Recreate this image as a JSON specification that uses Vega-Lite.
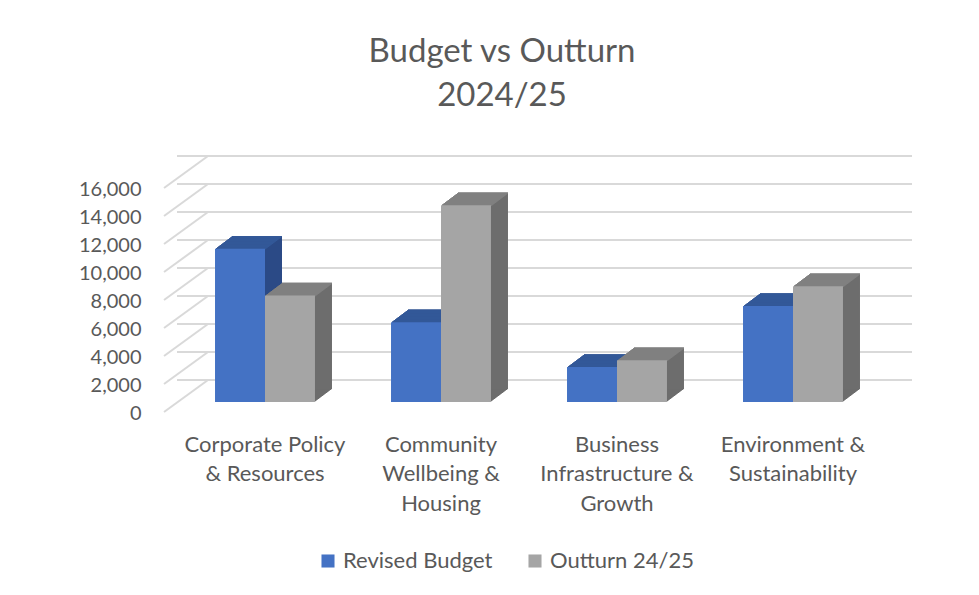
{
  "$schema": "https://vega.github.io/schema/vega-lite/v6.json",
  "width": 704,
  "height": 224,
  "autosize": {"type": "none"},
  "padding": {"left": 177, "top": 178, "right": 98, "bottom": 193},
  "background": "white",
  "title": {
    "text": ["Budget vs Outturn", "2024/25"],
    "fontSize": 33,
    "font": "Lato",
    "fontWeight": "normal",
    "color": "#595959",
    "lineHeight": 44,
    "anchor": "middle",
    "frame": "group",
    "dx": -27,
    "offset": 42
  },
  "data": {
    "values": [
      {"cat": "Corporate Policy & Resources", "series": "Revised Budget", "value": 10950},
      {"cat": "Corporate Policy & Resources", "series": "Outturn 24/25", "value": 7600},
      {"cat": "Community Wellbeing & Housing", "series": "Revised Budget", "value": 5700},
      {"cat": "Community Wellbeing & Housing", "series": "Outturn 24/25", "value": 14050},
      {"cat": "Business Infrastructure & Growth", "series": "Revised Budget", "value": 2500},
      {"cat": "Business Infrastructure & Growth", "series": "Outturn 24/25", "value": 2980},
      {"cat": "Environment & Sustainability", "series": "Revised Budget", "value": 6860},
      {"cat": "Environment & Sustainability", "series": "Outturn 24/25", "value": 8260}
    ]
  },
  "layer": [
    {
      "data": {"values": [{"v": 0}, {"v": 2000}, {"v": 4000}, {"v": 6000}, {"v": 8000}, {"v": 10000}, {"v": 12000}, {"v": 14000}, {"v": 16000}]},
      "mark": {"type": "rule", "color": "#D9D9D9", "strokeWidth": 2, "xOffset": 31, "x2Offset": 31, "yOffset": -22},
      "encoding": {"y": {"field": "v", "type": "quantitative", "title": null,
        "axis": {"format": ",d", "values": [0, 2000, 4000, 6000, 8000, 10000, 12000, 14000, 16000], "labelOffset": 11, "labelPadding": 36, "labelOverlap": false, "labelFontSize": 20}}}
    },
    {
      "data": {"values": [{"v": 0}, {"v": 2000}, {"v": 4000}, {"v": 6000}, {"v": 8000}, {"v": 10000}, {"v": 12000}, {"v": 14000}, {"v": 16000}]},
      "mark": {"type": "rule", "color": "#D9D9D9", "strokeWidth": 2, "xOffset": -51, "x2Offset": -7, "yOffset": 10, "y2Offset": -22},
      "encoding": {
        "x": {"datum": "Corporate Policy & Resources", "type": "nominal", "bandPosition": 0, "title": null},
        "x2": {"datum": "Corporate Policy & Resources", "bandPosition": 0},
        "y": {"field": "v", "type": "quantitative", "title": null,
          "axis": {"format": ",d", "values": [0, 2000, 4000, 6000, 8000, 10000, 12000, 14000, 16000], "labelOffset": 11, "labelPadding": 36, "labelOverlap": false, "labelFontSize": 20}},
        "y2": {"field": "v"}
      }
    },
    {
      "encoding": {
        "y": {
          "field": "value", "type": "quantitative", "title": null,
          "scale": {"domain": [0, 16000], "padding": 0, "nice": false, "zero": true},
          "axis": {"format": ",d", "values": [0, 2000, 4000, 6000, 8000, 10000, 12000, 14000, 16000], "labelOffset": 11, "labelPadding": 36, "labelOverlap": false, "labelFontSize": 20}
        }
      },
      "layer": [
        {
          "transform": [{"filter": "datum.series === 'Revised Budget'"}],
          "encoding": {"x": {"field": "cat", "type": "nominal", "sort": null, "title": null, "bandPosition": 0}, "x2": {"field": "cat", "bandPosition": 0.5}, "y2": {"datum": 0}, "color": {"value": "#2B4A86"}},
          "layer": [
            {"mark": {"type": "bar", "xOffset": 1, "x2Offset": 1, "yOffset": -0.75, "y2Offset": -0.75}},
            {"mark": {"type": "bar", "xOffset": 2, "x2Offset": 2, "yOffset": -1.5, "y2Offset": -1.5}},
            {"mark": {"type": "bar", "xOffset": 3, "x2Offset": 3, "yOffset": -2.25, "y2Offset": -2.25}},
            {"mark": {"type": "bar", "xOffset": 4, "x2Offset": 4, "yOffset": -3, "y2Offset": -3}},
            {"mark": {"type": "bar", "xOffset": 5, "x2Offset": 5, "yOffset": -3.75, "y2Offset": -3.75}},
            {"mark": {"type": "bar", "xOffset": 6, "x2Offset": 6, "yOffset": -4.5, "y2Offset": -4.5}},
            {"mark": {"type": "bar", "xOffset": 7, "x2Offset": 7, "yOffset": -5.25, "y2Offset": -5.25}},
            {"mark": {"type": "bar", "xOffset": 8, "x2Offset": 8, "yOffset": -6, "y2Offset": -6}},
            {"mark": {"type": "bar", "xOffset": 9, "x2Offset": 9, "yOffset": -6.75, "y2Offset": -6.75}},
            {"mark": {"type": "bar", "xOffset": 10, "x2Offset": 10, "yOffset": -7.5, "y2Offset": -7.5}},
            {"mark": {"type": "bar", "xOffset": 11, "x2Offset": 11, "yOffset": -8.25, "y2Offset": -8.25}},
            {"mark": {"type": "bar", "xOffset": 12, "x2Offset": 12, "yOffset": -9, "y2Offset": -9}},
            {"mark": {"type": "bar", "xOffset": 13, "x2Offset": 13, "yOffset": -9.75, "y2Offset": -9.75}},
            {"mark": {"type": "bar", "xOffset": 14, "x2Offset": 14, "yOffset": -10.5, "y2Offset": -10.5}},
            {"mark": {"type": "bar", "xOffset": 15, "x2Offset": 15, "yOffset": -11.25, "y2Offset": -11.25}},
            {"mark": {"type": "bar", "xOffset": 16, "x2Offset": 16, "yOffset": -12, "y2Offset": -12}},
            {"mark": {"type": "bar", "xOffset": 17, "x2Offset": 17, "yOffset": -12.75, "y2Offset": -12.75}}
          ]
        },
        {
          "transform": [{"filter": "datum.series === 'Outturn 24/25'"}],
          "encoding": {"x": {"field": "cat", "type": "nominal", "sort": null, "title": null, "bandPosition": 0.5}, "x2": {"field": "cat", "bandPosition": 1}, "y2": {"datum": 0}, "color": {"value": "#6D6D6D"}},
          "layer": [
            {"mark": {"type": "bar", "xOffset": 1, "x2Offset": 1, "yOffset": -0.75, "y2Offset": -0.75}},
            {"mark": {"type": "bar", "xOffset": 2, "x2Offset": 2, "yOffset": -1.5, "y2Offset": -1.5}},
            {"mark": {"type": "bar", "xOffset": 3, "x2Offset": 3, "yOffset": -2.25, "y2Offset": -2.25}},
            {"mark": {"type": "bar", "xOffset": 4, "x2Offset": 4, "yOffset": -3, "y2Offset": -3}},
            {"mark": {"type": "bar", "xOffset": 5, "x2Offset": 5, "yOffset": -3.75, "y2Offset": -3.75}},
            {"mark": {"type": "bar", "xOffset": 6, "x2Offset": 6, "yOffset": -4.5, "y2Offset": -4.5}},
            {"mark": {"type": "bar", "xOffset": 7, "x2Offset": 7, "yOffset": -5.25, "y2Offset": -5.25}},
            {"mark": {"type": "bar", "xOffset": 8, "x2Offset": 8, "yOffset": -6, "y2Offset": -6}},
            {"mark": {"type": "bar", "xOffset": 9, "x2Offset": 9, "yOffset": -6.75, "y2Offset": -6.75}},
            {"mark": {"type": "bar", "xOffset": 10, "x2Offset": 10, "yOffset": -7.5, "y2Offset": -7.5}},
            {"mark": {"type": "bar", "xOffset": 11, "x2Offset": 11, "yOffset": -8.25, "y2Offset": -8.25}},
            {"mark": {"type": "bar", "xOffset": 12, "x2Offset": 12, "yOffset": -9, "y2Offset": -9}},
            {"mark": {"type": "bar", "xOffset": 13, "x2Offset": 13, "yOffset": -9.75, "y2Offset": -9.75}},
            {"mark": {"type": "bar", "xOffset": 14, "x2Offset": 14, "yOffset": -10.5, "y2Offset": -10.5}},
            {"mark": {"type": "bar", "xOffset": 15, "x2Offset": 15, "yOffset": -11.25, "y2Offset": -11.25}},
            {"mark": {"type": "bar", "xOffset": 16, "x2Offset": 16, "yOffset": -12, "y2Offset": -12}},
            {"mark": {"type": "bar", "xOffset": 17, "x2Offset": 17, "yOffset": -12.75, "y2Offset": -12.75}}
          ]
        },
        {
          "transform": [{"filter": "datum.series === 'Revised Budget'"}],
          "encoding": {"x": {"field": "cat", "type": "nominal", "sort": null, "title": null, "bandPosition": 0}, "x2": {"field": "cat", "bandPosition": 0.5}, "y2": {"field": "value"}, "color": {"value": "#335898"}},
          "layer": [
            {"mark": {"type": "bar", "xOffset": 1, "x2Offset": 1, "yOffset": -0.75, "y2Offset": 0.6}},
            {"mark": {"type": "bar", "xOffset": 2, "x2Offset": 2, "yOffset": -1.5, "y2Offset": -0.15}},
            {"mark": {"type": "bar", "xOffset": 3, "x2Offset": 3, "yOffset": -2.25, "y2Offset": -0.9}},
            {"mark": {"type": "bar", "xOffset": 4, "x2Offset": 4, "yOffset": -3, "y2Offset": -1.65}},
            {"mark": {"type": "bar", "xOffset": 5, "x2Offset": 5, "yOffset": -3.75, "y2Offset": -2.4}},
            {"mark": {"type": "bar", "xOffset": 6, "x2Offset": 6, "yOffset": -4.5, "y2Offset": -3.15}},
            {"mark": {"type": "bar", "xOffset": 7, "x2Offset": 7, "yOffset": -5.25, "y2Offset": -3.9}},
            {"mark": {"type": "bar", "xOffset": 8, "x2Offset": 8, "yOffset": -6, "y2Offset": -4.65}},
            {"mark": {"type": "bar", "xOffset": 9, "x2Offset": 9, "yOffset": -6.75, "y2Offset": -5.4}},
            {"mark": {"type": "bar", "xOffset": 10, "x2Offset": 10, "yOffset": -7.5, "y2Offset": -6.15}},
            {"mark": {"type": "bar", "xOffset": 11, "x2Offset": 11, "yOffset": -8.25, "y2Offset": -6.9}},
            {"mark": {"type": "bar", "xOffset": 12, "x2Offset": 12, "yOffset": -9, "y2Offset": -7.65}},
            {"mark": {"type": "bar", "xOffset": 13, "x2Offset": 13, "yOffset": -9.75, "y2Offset": -8.4}},
            {"mark": {"type": "bar", "xOffset": 14, "x2Offset": 14, "yOffset": -10.5, "y2Offset": -9.15}},
            {"mark": {"type": "bar", "xOffset": 15, "x2Offset": 15, "yOffset": -11.25, "y2Offset": -9.9}},
            {"mark": {"type": "bar", "xOffset": 16, "x2Offset": 16, "yOffset": -12, "y2Offset": -10.65}},
            {"mark": {"type": "bar", "xOffset": 17, "x2Offset": 17, "yOffset": -12.75, "y2Offset": -11.4}}
          ]
        },
        {
          "transform": [{"filter": "datum.series === 'Outturn 24/25'"}],
          "encoding": {"x": {"field": "cat", "type": "nominal", "sort": null, "title": null, "bandPosition": 0.5}, "x2": {"field": "cat", "bandPosition": 1}, "y2": {"field": "value"}, "color": {"value": "#808080"}},
          "layer": [
            {"mark": {"type": "bar", "xOffset": 1, "x2Offset": 1, "yOffset": -0.75, "y2Offset": 0.6}},
            {"mark": {"type": "bar", "xOffset": 2, "x2Offset": 2, "yOffset": -1.5, "y2Offset": -0.15}},
            {"mark": {"type": "bar", "xOffset": 3, "x2Offset": 3, "yOffset": -2.25, "y2Offset": -0.9}},
            {"mark": {"type": "bar", "xOffset": 4, "x2Offset": 4, "yOffset": -3, "y2Offset": -1.65}},
            {"mark": {"type": "bar", "xOffset": 5, "x2Offset": 5, "yOffset": -3.75, "y2Offset": -2.4}},
            {"mark": {"type": "bar", "xOffset": 6, "x2Offset": 6, "yOffset": -4.5, "y2Offset": -3.15}},
            {"mark": {"type": "bar", "xOffset": 7, "x2Offset": 7, "yOffset": -5.25, "y2Offset": -3.9}},
            {"mark": {"type": "bar", "xOffset": 8, "x2Offset": 8, "yOffset": -6, "y2Offset": -4.65}},
            {"mark": {"type": "bar", "xOffset": 9, "x2Offset": 9, "yOffset": -6.75, "y2Offset": -5.4}},
            {"mark": {"type": "bar", "xOffset": 10, "x2Offset": 10, "yOffset": -7.5, "y2Offset": -6.15}},
            {"mark": {"type": "bar", "xOffset": 11, "x2Offset": 11, "yOffset": -8.25, "y2Offset": -6.9}},
            {"mark": {"type": "bar", "xOffset": 12, "x2Offset": 12, "yOffset": -9, "y2Offset": -7.65}},
            {"mark": {"type": "bar", "xOffset": 13, "x2Offset": 13, "yOffset": -9.75, "y2Offset": -8.4}},
            {"mark": {"type": "bar", "xOffset": 14, "x2Offset": 14, "yOffset": -10.5, "y2Offset": -9.15}},
            {"mark": {"type": "bar", "xOffset": 15, "x2Offset": 15, "yOffset": -11.25, "y2Offset": -9.9}},
            {"mark": {"type": "bar", "xOffset": 16, "x2Offset": 16, "yOffset": -12, "y2Offset": -10.65}},
            {"mark": {"type": "bar", "xOffset": 17, "x2Offset": 17, "yOffset": -12.75, "y2Offset": -11.4}}
          ]
        },
        {
          "transform": [{"filter": "datum.series === 'Revised Budget'"}],
          "mark": {"type": "bar"},
          "encoding": {
            "x": {
              "field": "cat", "type": "nominal", "sort": null, "title": null, "bandPosition": 0,
              "axis": {
                "labelAngle": 0,
                "labelAlign": "center",
                "labelExpr": "datum.value == 'Corporate Policy & Resources' ? ['Corporate Policy', '& Resources'] : datum.value == 'Community Wellbeing & Housing' ? ['Community', 'Wellbeing &', 'Housing'] : datum.value == 'Business Infrastructure & Growth' ? ['Business', 'Infrastructure &', 'Growth'] : ['Environment &', 'Sustainability']",
                "labelPadding": 42,
                "labelFontSize": 22
              }
            },
            "x2": {"field": "cat", "bandPosition": 0.5},
            "y2": {"datum": 0},
            "color": {
              "field": "series", "type": "nominal",
              "scale": {"domain": ["Revised Budget", "Outturn 24/25"], "range": ["#4472C4", "#A5A5A5"]},
              "legend": {
                "title": null, "orient": "none", "direction": "horizontal",
                "legendX": 140, "legendY": 372,
                "symbolType": "square", "symbolSize": 170, "symbolStrokeWidth": 0,
                "labelFontSize": 22, "labelFont": "Lato", "labelColor": "#595959",
                "columnPadding": 31, "labelOffset": 4
              }
            }
          }
        },
        {
          "transform": [{"filter": "datum.series === 'Outturn 24/25'"}],
          "mark": {"type": "bar"},
          "encoding": {
            "x": {"field": "cat", "type": "nominal", "sort": null, "title": null, "bandPosition": 0.5},
            "x2": {"field": "cat", "bandPosition": 1},
            "y2": {"datum": 0},
            "color": {"field": "series", "type": "nominal"}
          }
        }
      ]
    }
  ],
  "config": {
    "view": {"stroke": null},
    "scale": {"bandPaddingInner": 0.432, "bandPaddingOuter": 0.216},
    "axis": {
      "domain": false, "ticks": false, "grid": false,
      "labelFont": "Lato", "labelFontSize": 20, "labelColor": "#595959"
    },
    "axisX": {"labelLineHeight": 29.5},
    "axisY": {"labelOverlap": false, "labelFontSize": 20}
  }
}
